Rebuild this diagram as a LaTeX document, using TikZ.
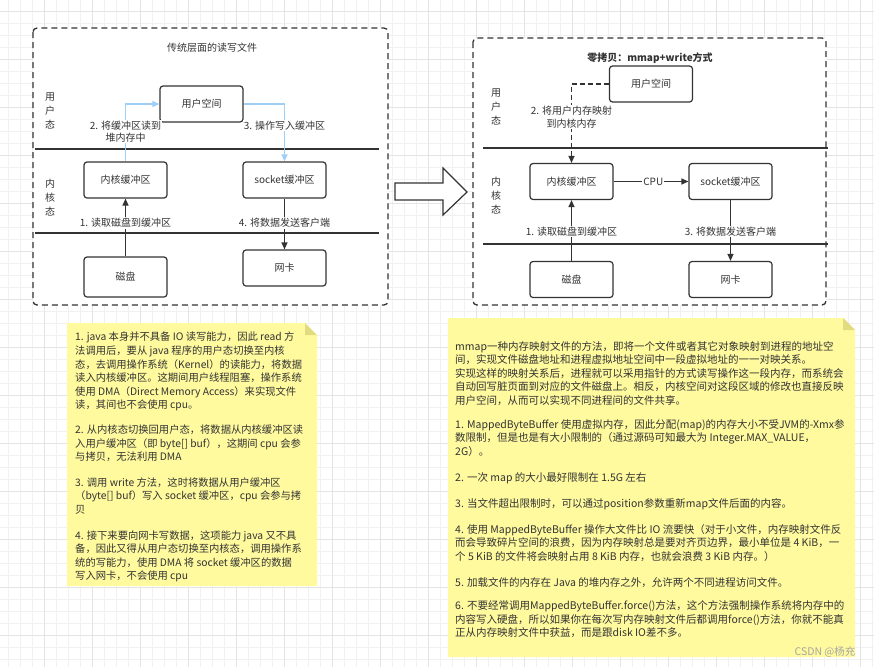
\documentclass[tikz,border=0pt]{standalone}
\usepackage{fontspec}
\setmainfont{Noto Sans CJK SC}
\usetikzlibrary{arrows.meta}

\definecolor{inkgray}{HTML}{333333}
\definecolor{gridminor}{HTML}{F1F1F1}
\definecolor{gridmajor}{HTML}{E4E4E4}
\definecolor{linkblue}{HTML}{9FCFF7}
\definecolor{noteyellow}{HTML}{FFFA9E}
\definecolor{notefold}{HTML}{E2DC80}

\tikzset{
  box/.style={draw=inkgray, line width=1.2pt, rounded corners=3pt, fill=white,
    minimum width=83pt, minimum height=36pt, font=\fontsize{10}{12}\selectfont, text=inkgray},
  frame/.style={draw=inkgray, line width=1.3pt, dash pattern=on 6pt off 4pt,
    rounded corners=4pt, fill=white},
  lbl/.style={fill=white, inner sep=1pt, align=center,
    font=\fontsize{10}{12.5}\selectfont, text=inkgray},
  side/.style={align=center, font=\fontsize{10}{14}\selectfont, text=inkgray},
  flow/.style={draw=inkgray, line width=1.2pt, -{Triangle[length=7pt,width=6pt]}},
  blueflow/.style={draw=linkblue, line width=1.2pt, -{Triangle[length=7pt,width=6pt]}},
  notetext/.style={anchor=north west, inner sep=0pt, align=left,
    font=\fontsize{10.3}{13.6}\selectfont, text=inkgray},
}

\begin{document}
\begin{tikzpicture}[x=1pt, y=-1pt]
    \useasboundingbox (0,0) rectangle (874,667);
    \fill[white] (0,0) rectangle (874,667);
    \foreach \gx in {8,20,...,872} \draw[gridminor, line width=0.8pt] (\gx,0) -- (\gx,667);
    \foreach \gy in {11,23,...,665} \draw[gridminor, line width=0.8pt] (0,\gy) -- (874,\gy);
    \foreach \gx in {44,92,...,872} \draw[gridmajor, line width=0.8pt] (\gx,0) -- (\gx,667);
    \foreach \gy in {11,59,...,665} \draw[gridmajor, line width=0.8pt] (0,\gy) -- (874,\gy);

    \draw[frame] (33,28) rectangle (388,305);
    \draw[frame] (473,38) rectangle (826,305);

    \node[text=inkgray, font=\fontsize{10}{12}\selectfont] (title) at (212,48) {传统层面的读写文件};
    \node[text=inkgray, font=\fontsize{10}{12}\selectfont\bfseries] (title2) at (650,58) {零拷贝：mmap+write方式};

    \node[side] (userlev) at (50,111) {用\\户\\态};
    \node[side] (kernlev) at (50,198) {内\\核\\态};
    \node[side] (userlev2) at (496,107) {用\\户\\态};
    \node[side] (kernlev2) at (496,196) {内\\核\\态};

    \draw[inkgray, line width=1.3pt] (35,149) -- (379,149);
    \draw[inkgray, line width=1.3pt] (35,233) -- (379,233);
    \draw[inkgray, line width=1.3pt] (483,148) -- (828,148);
    \draw[inkgray, line width=1.3pt] (483,244) -- (828,244);

    \node[box] (uspace) at (201.5,104) {用户空间};
    \node[box] (kbuf) at (125.5,180) {内核缓冲区};
    \node[box] (sbuf) at (284.5,180) {socket缓冲区};
    \node[box, minimum height=40pt] (disk) at (125.5,277) {磁盘};
    \node[box] (nic) at (284.5,268) {网卡};

    \node[box] (uspace2) at (651,84) {用户空间};
    \node[box] (kbuf2) at (571.5,181.5) {内核缓冲区};
    \node[box] (sbuf2) at (730.5,181.5) {socket缓冲区};
    \node[box] (disk2) at (571.5,279.5) {磁盘};
    \node[box] (nic2) at (730.5,279.5) {网卡};

    \draw[blueflow] (kbuf.north) |- node[lbl, pos=0.26] {2. 将缓冲区读到\\堆内存中} (uspace.west);
    \draw[blueflow] (uspace.east) -| node[lbl, pos=0.69] {3. 操作写入缓冲区} (sbuf.north);
    \draw[flow] (disk.north) -- node[lbl, pos=0.58] {1. 读取磁盘到缓冲区} (kbuf.south);
    \draw[flow] (sbuf.south) -- node[lbl, pos=0.48] {4. 将数据发送客户端} (nic.north);

    \draw[flow, dash pattern=on 5pt off 3pt] (uspace2.west) -| node[lbl, pos=0.71] {2. 将用户内存映射\\到内核内存} (kbuf2.north);
    \draw[flow] (kbuf2.east) -- node[lbl, pos=0.53] {CPU} (sbuf2.west);
    \draw[flow] (disk2.north) -- node[lbl, pos=0.48] {1. 读取磁盘到缓冲区} (kbuf2.south);
    \draw[flow] (sbuf2.south) -- node[lbl, pos=0.52] {3. 将数据发送客户端} (nic2.north);

    \draw[inkgray, line width=1.2pt, fill=white] (395,183) -- (443,183) -- (443,168) -- (467,192)
        -- (443,215) -- (443,200) -- (395,200) -- cycle;

    \fill[noteyellow] (67,323) -- (305,323) -- (317,335) -- (317,586) -- (67,586) -- cycle;
    \fill[notefold] (305,323) -- (305,335) -- (317,335) -- cycle;
    \fill[noteyellow] (448,318) -- (843,318) -- (855,330) -- (855,657) -- (448,657) -- cycle;
    \fill[notefold] (843,318) -- (843,330) -- (855,330) -- cycle;

    \node[notetext] (note) at (75,332) {1. java 本身并不具备 IO 读写能力，因此 read 方\\
法调用后，要从 java 程序的用户态切换至内核\\
态，去调用操作系统（Kernel）的读能力，将数据\\
读入内核缓冲区。这期间用户线程阻塞，操作系统\\
使用 DMA（Direct Memory Access）来实现文件\\
读，其间也不会使用 cpu。\\[11pt]
2. 从内核态切换回用户态，将数据从内核缓冲区读\\
入用户缓冲区（即 byte[] buf），这期间 cpu 会参\\
与拷贝，无法利用 DMA\\[12pt]
3. 调用 write 方法，这时将数据从用户缓冲区\\
（byte[] buf）写入 socket 缓冲区，cpu 会参与拷\\
贝\\[12pt]
4. 接下来要向网卡写数据，这项能力 java 又不具\\
备，因此又得从用户态切换至内核态，调用操作系\\
统的写能力，使用 DMA 将 socket 缓冲区的数据\\
写入网卡，不会使用 cpu};

    \node[notetext, font=\fontsize{10.5}{13.5}\selectfont] (note2) at (455,341) {mmap一种内存映射文件的方法，即将一个文件或者其它对象映射到进程的地址空\\
间，实现文件磁盘地址和进程虚拟地址空间中一段虚拟地址的一一对映关系。\\
实现这样的映射关系后，进程就可以采用指针的方式读写操作这一段内存，而系统会\\
自动回写脏页面到对应的文件磁盘上。相反，内核空间对这段区域的修改也直接反映\\
用户空间，从而可以实现不同进程间的文件共享。\\[10.5pt]
1. MappedByteBuffer 使用虚拟内存，因此分配(map)的内存大小不受JVM的-Xmx参\\
数限制，但是也是有大小限制的（通过源码可知最大为 Integer.MAX\_VALUE，\\
2G）。\\[12.5pt]
2. 一次 map 的大小最好限制在 1.5G 左右\\[12.5pt]
3. 当文件超出限制时，可以通过position参数重新map文件后面的内容。\\[12.5pt]
4. 使用 MappedByteBuffer 操作大文件比 IO 流要快（对于小文件，内存映射文件反\\
而会导致碎片空间的浪费，因为内存映射总是要对齐页边界，最小单位是 4 KiB，一\\
个 5 KiB 的文件将会映射占用 8 KiB 内存，也就会浪费 3 KiB 内存。）\\[12.5pt]
5. 加载文件的内存在 Java 的堆内存之外，允许两个不同进程访问文件。\\[10pt]
6. 不要经常调用MappedByteBuffer.force()方法，这个方法强制操作系统将内存中的\\
内容写入硬盘，所以如果你在每次写内存映射文件后都调用force()方法，你就不能真\\
正从内存映射文件中获益，而是跟disk IO差不多。};

    \node[text=gray!70, font=\fontsize{10.5}{12}\selectfont] (mark) at (825,652) {CSDN @杨充};
\end{tikzpicture}
\end{document}
